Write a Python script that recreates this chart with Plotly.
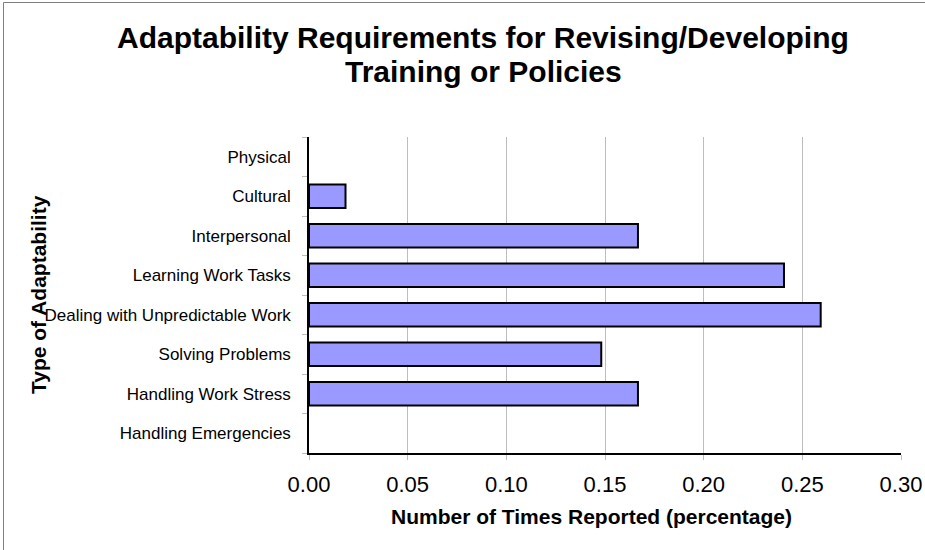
import plotly.graph_objects as go

categories = [
    "Handling Emergencies",
    "Handling Work Stress",
    "Solving Problems",
    "Dealing with Unpredictable Work",
    "Learning Work Tasks",
    "Interpersonal",
    "Cultural",
    "Physical",
]
values = [0.0, 0.1667, 0.1481, 0.2593, 0.2407, 0.1667, 0.0185, 0.0]
x_ticks = [0.00, 0.05, 0.10, 0.15, 0.20, 0.25, 0.30]
x_tick_labels = ["0.00", "0.05", "0.10", "0.15", "0.20", "0.25", "0.30"]
title_lines = ["Adaptability Requirements for Revising/Developing", "Training or Policies"]

FONT = "Liberation Sans, Arial, sans-serif"
W, H = 925, 550
L, R, T, B = 309, 24, 137, 97
pw, ph = W - L - R, H - T - B


def px_x(x):
    return (x - L) / pw


def px_y(y):
    return (H - B - y) / ph


fig = go.Figure(
    go.Bar(
        y=categories,
        x=values,
        orientation="h",
        marker=dict(
            color="#9999FF",
            line=dict(color="#000000", width=[0 if v == 0 else 2 for v in values]),
        ),
        hoverinfo="x+y",
    )
)

annotations = [
    dict(
        text="<b>%s</b>" % title_lines[0],
        xref="paper", yref="paper",
        x=px_x(483), y=px_y(37),
        showarrow=False, xanchor="center", yanchor="middle",
        font=dict(family=FONT, size=30, color="black"),
    ),
    dict(
        text="<b>%s</b>" % title_lines[1],
        xref="paper", yref="paper",
        x=px_x(483), y=px_y(71),
        showarrow=False, xanchor="center", yanchor="middle",
        font=dict(family=FONT, size=30, color="black"),
    ),
    dict(
        text="<b>Type of Adaptability</b>",
        xref="paper", yref="paper",
        x=px_x(38), y=px_y(295),
        textangle=-90,
        showarrow=False, xanchor="center", yanchor="middle",
        font=dict(family=FONT, size=21, color="black"),
    ),
    dict(
        text="<b>Number of Times Reported (percentage)</b>",
        xref="paper", yref="paper",
        x=px_x(591.5), y=px_y(516),
        showarrow=False, xanchor="center", yanchor="middle",
        font=dict(family=FONT, size=21, color="black"),
    ),
]

fig.update_layout(
    width=W,
    height=H,
    margin=dict(l=L, r=R, t=T, b=B, autoexpand=False),
    paper_bgcolor="white",
    plot_bgcolor="white",
    showlegend=False,
    bargap=0.4,
    font=dict(family=FONT, color="black"),
    xaxis=dict(
        range=[0, 0.30],
        tickvals=x_ticks,
        ticktext=x_tick_labels,
        showgrid=True,
        gridcolor="#BDBDBD",
        gridwidth=1,
        zeroline=False,
        showline=True,
        linecolor="black",
        linewidth=1.5,
        ticks="outside",
        ticklen=5,
        tickcolor="#BDBDBD",
        tickfont=dict(family=FONT, size=22, color="black"),
        ticklabelstandoff=6,
        fixedrange=True,
    ),
    yaxis=dict(
        categoryorder="array",
        categoryarray=categories,
        showgrid=False,
        zeroline=False,
        showline=True,
        linecolor="black",
        linewidth=1.5,
        ticks="outside",
        tickson="boundaries",
        ticklen=5,
        tickcolor="#BDBDBD",
        tickfont=dict(family=FONT, size=17, color="black"),
        ticklabelstandoff=13,
        fixedrange=True,
    ),
    annotations=annotations,
    shapes=[
        dict(
            type="rect",
            xref="paper", yref="paper",
            x0=px_x(3.5), x1=1.2,
            y0=-0.5, y1=px_y(2.5),
            line=dict(color="#808080", width=1),
            fillcolor="rgba(0,0,0,0)",
            layer="below",
        )
    ],
)

fig.write_html(
    "out.html",
    config={"displayModeBar": False},
    post_script="document.body.style.margin='0px';",
)
